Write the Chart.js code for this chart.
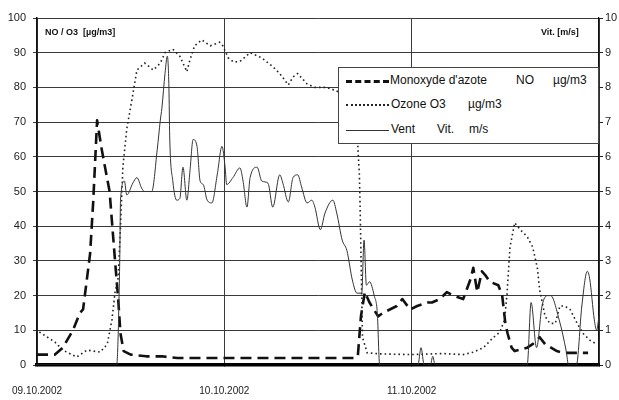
<!DOCTYPE html>
<html>
<head>
<meta charset="utf-8">
<script src="https://cdn.jsdelivr.net/npm/chart.js@4"></script>
<style>
  body { margin: 0; background: #fff; }
  #wrap { position: relative; width: 619px; height: 400px; }
  .lbl { position: absolute; font-family: "Liberation Sans", Arial, sans-serif; color: #111; white-space: nowrap; }
  .plotlbl { font-size: 9px; font-weight: bold; }
  #legend { position: absolute; left: 338px; top: 67px; width: 259px; height: 75px;
            background: #fff; border: 1px solid #444; }
  #legend .lbl { font-size: 12px; }
  .sample { position: absolute; left: 7px; width: 43px; height: 0; }
</style>
</head>
<body>
<div id="wrap">
  <canvas id="chart" width="619" height="400"></canvas>
  <div class="lbl plotlbl" style="left:45px; top:27px;">NO / O3&nbsp; [µg/m3]</div>
  <div class="lbl plotlbl" style="left:541px; top:27px;">Vit. [m/s]</div>
  <div id="legend">
    <div class="sample" style="top:12px; border-top:3px dashed #111;"></div>
    <div class="lbl" style="left:51px; top:5px;">Monoxyde d'azote</div>
    <div class="lbl" style="left:177px; top:5px;">NO</div>
    <div class="lbl" style="left:214px; top:5px;">µg/m3</div>
    <div class="sample" style="top:36px; border-top:2px dotted #222;"></div>
    <div class="lbl" style="left:52px; top:29px;">Ozone O3</div>
    <div class="lbl" style="left:129px; top:29px;">µg/m3</div>
    <div class="sample" style="top:62px; border-top:1px solid #333;"></div>
    <div class="lbl" style="left:52px; top:54px;">Vent</div>
    <div class="lbl" style="left:98px; top:54px;">Vit.</div>
    <div class="lbl" style="left:130px; top:54px;">m/s</div>
  </div>
</div>
<script>
// heures depuis le 09.10.2002 00:00
const dayLabels = ['09.10.2002', '10.10.2002', '11.10.2002', ''];

const noHours = [0, 1, 2.3, 3.3, 4.6, 5.5, 5.9, 6.8, 7.2, 7.7, 8.3, 9.3, 10.0, 10.4, 10.7, 11.1, 12.0, 14, 16, 18, 22, 26, 30, 34, 38, 40.7, 41.1, 41.5, 42.0,
  42.6, 43.7, 44.3, 46.1, 46.8, 47.8, 48.7, 50.0, 50.6, 51.6, 52.5, 53.3, 54.6, 55.5, 55.9, 56.4, 57.0, 57.4, 58.0, 59.1, 59.6, 60.0, 60.3, 60.8, 61.2,
  62.8, 63.5, 64.4, 65.1, 66.6, 67.4, 69.2, 70.6];
const noValues = [3, 3, 3, 5, 10, 15, 16, 32, 47, 70.5, 62, 50, 30, 19, 9, 4, 3, 2.5, 2.5, 2, 2, 2, 2, 2, 2, 2, 2.5, 14, 21,
  18, 14, 15, 17, 19, 16, 17, 18, 18, 19, 21, 20, 19, 24.5, 28, 21, 27, 26, 24, 23, 20, 12, 9, 5, 4,
  5, 6, 8, 6, 4, 3.5, 3.5, 3.5];

const o3Hours = [0.3, 2.3, 3.3, 5.1, 6.4, 8.1, 9.0, 9.6, 10.0, 10.4, 10.7, 11.0, 11.5, 12.2, 12.8, 13.8, 14.9, 15.8, 16.4, 17.4, 18.3, 19.2, 19.6, 20.2,
  21.1, 22.2, 23.4, 23.8, 24.5, 25.2, 26.0, 27.3, 28.8, 30.2, 31.1, 32.2, 32.8, 33.4, 34.6, 35.6, 37.1, 38.4, 39.3, 40.1, 41.1, 41.3, 41.4, 41.7, 42.3,
  44, 48, 52, 54.6, 55.9, 57.2, 58.4, 59.3, 59.9, 60.2, 60.6, 61.2, 61.9, 62.8, 63.5, 64.1, 64.4, 65.1, 65.7, 66.4, 67.0, 67.6, 68.3, 69.2, 70.0, 70.9, 71.5];
const o3Values = [9.5, 6.6, 4.3, 2.3, 4.3, 3.7, 6, 13, 21, 25, 40, 57, 68, 77, 85, 87, 85, 87, 90, 91, 89, 84.5, 88, 92,
  93.7, 92, 93, 92, 88.5, 87.3, 87.5, 90, 88.5, 86, 84, 80.7, 83, 84, 81, 80, 80, 79, 77, 72, 63, 55, 45, 8, 3.5,
  3.2, 3, 3.3, 3, 3.7, 5, 7.8, 9.5, 13, 20, 34, 41, 39, 37, 34, 28, 21.6, 14, 12, 12, 17, 17, 16, 12, 9, 7, 6.3];

const windHours = [0, 10.2, 10.6, 10.7, 11.2, 11.5, 12.3, 12.8, 13.4, 13.8, 14.7, 15.4, 15.8, 16.0, 16.4, 16.7, 16.9, 17.0, 17.4, 17.9, 18.3, 18.7,
  19.2, 19.6, 20.0, 20.5, 20.9, 21.3, 21.8, 22.4, 23.1, 23.7, 24.1, 24.3, 25.1, 26.0, 26.4, 26.9, 27.3, 28.2, 28.8, 29.6, 30.2, 31.1, 31.5, 32.2,
  32.8, 33.4, 33.9, 34.6, 35.2, 35.6, 36.3, 36.9, 37.9, 38.4, 39.1, 39.7, 40.4, 41.0, 41.6, 41.9, 42.2, 42.6, 43.2, 43.6, 43.9,
  48.8, 49.2, 49.6, 50.4, 50.7, 51.0, 62.8, 63.3, 64.0, 64.7, 65.4, 65.8, 66.9, 67.8, 68.1, 69.1, 69.8, 70.5, 70.8, 71.4, 71.7, 72];
const windValues = [0, 0, 3, 4.75, 5.3, 4.9, 5.25, 5.4, 5.1, 5.0, 5.0, 6.2, 7.06, 7.4, 8.4, 8.9, 8.0, 6.6, 5.3, 4.75, 4.8, 5.7,
  4.75, 5.6, 6.5, 6.3, 5.3, 5.2, 4.75, 4.67, 5.5, 6.3, 5.7, 5.2, 5.4, 5.68, 5.3, 4.55, 5.4, 5.7, 5.3, 5.24, 4.55, 5.48, 5.24, 4.7,
  5.4, 5.48, 5.13, 4.67, 4.75, 4.55, 3.9, 4.38, 4.75, 4.38, 3.6, 3.3, 2.45, 2.07, 2.07, 3.6, 2.3, 2.4, 2.0, 1.5, 0,
  0, 0.5, 0, 0, 0.25, 0, 0, 1.8, 0.5, 1.7, 2.0, 2.0, 1.3, 0.4, 0, 0, 1.7, 2.7, 2.5, 1.3, 1.0, 1.4];

function pts(xs, ys) {
  return xs.map((x, i) => ({ x: x, y: ys[i] }));
}

const tickFont = { family: '"Liberation Sans Narrow", "Liberation Sans", Arial', size: 11 };
const gridColor = '#3a3a3a';

new Chart(document.getElementById('chart'), {
  type: 'line',
  data: {
    datasets: [
      {
        label: 'Vent Vit. m/s',
        data: pts(windHours, windValues),
        yAxisID: 'y2',
        borderColor: '#333',
        borderWidth: 1,
        cubicInterpolationMode: 'monotone',
        pointRadius: 0
      },
      {
        label: 'Ozone O3 µg/m3',
        data: pts(o3Hours, o3Values),
        yAxisID: 'y',
        borderColor: '#222',
        borderWidth: 1.6,
        borderDash: [1.6, 3],
        tension: 0,
        pointRadius: 0
      },
      {
        label: "Monoxyde d'azote NO µg/m3",
        data: pts(noHours, noValues),
        yAxisID: 'y',
        borderColor: '#111',
        borderWidth: 2.6,
        borderDash: [11, 6],
        borderJoinStyle: 'round',
        tension: 0,
        pointRadius: 0
      }
    ]
  },
  options: {
    responsive: false,
    animation: false,
    layout: { padding: { top: 18, left: 0, right: 0, bottom: 0 } },
    plugins: { legend: { display: false }, tooltip: { enabled: false } },
    scales: {
      x: {
        type: 'linear',
        min: 0,
        max: 72,
        afterFit: s => { s.height = 35; s.paddingLeft = 0; s.paddingRight = 0; },
        afterBuildTicks: s => { s.ticks = [0, 24, 48, 72].map(v => ({ value: v })); },
        ticks: {
          font: { family: '"Liberation Sans Narrow", "Liberation Sans", Arial', size: 10 },
          color: '#222',
          padding: 20,
          maxRotation: 0,
          autoSkip: false,
          callback: (v) => dayLabels[Math.round(v / 24)]
        },
        grid: { color: gridColor, lineWidth: 1, tickLength: 0 },
        border: { color: '#000', width: 3.5 }
      },
      y: {
        position: 'left',
        min: 0,
        max: 100,
        afterFit: s => { s.width = 37; },
        ticks: { stepSize: 10, font: tickFont, color: '#222', padding: 7 },
        grid: { color: gridColor, lineWidth: 1, tickLength: 4 },
        border: { color: '#111', width: 1.5 }
      },
      y2: {
        position: 'right',
        min: 0,
        max: 10,
        afterFit: s => { s.width = 20; },
        ticks: { stepSize: 1, font: tickFont, color: '#222', padding: 2 },
        grid: { drawOnChartArea: false, color: '#222', tickLength: 4 },
        border: { color: '#111', width: 1.2 }
      }
    }
  }
});
</script>
</body>
</html>
